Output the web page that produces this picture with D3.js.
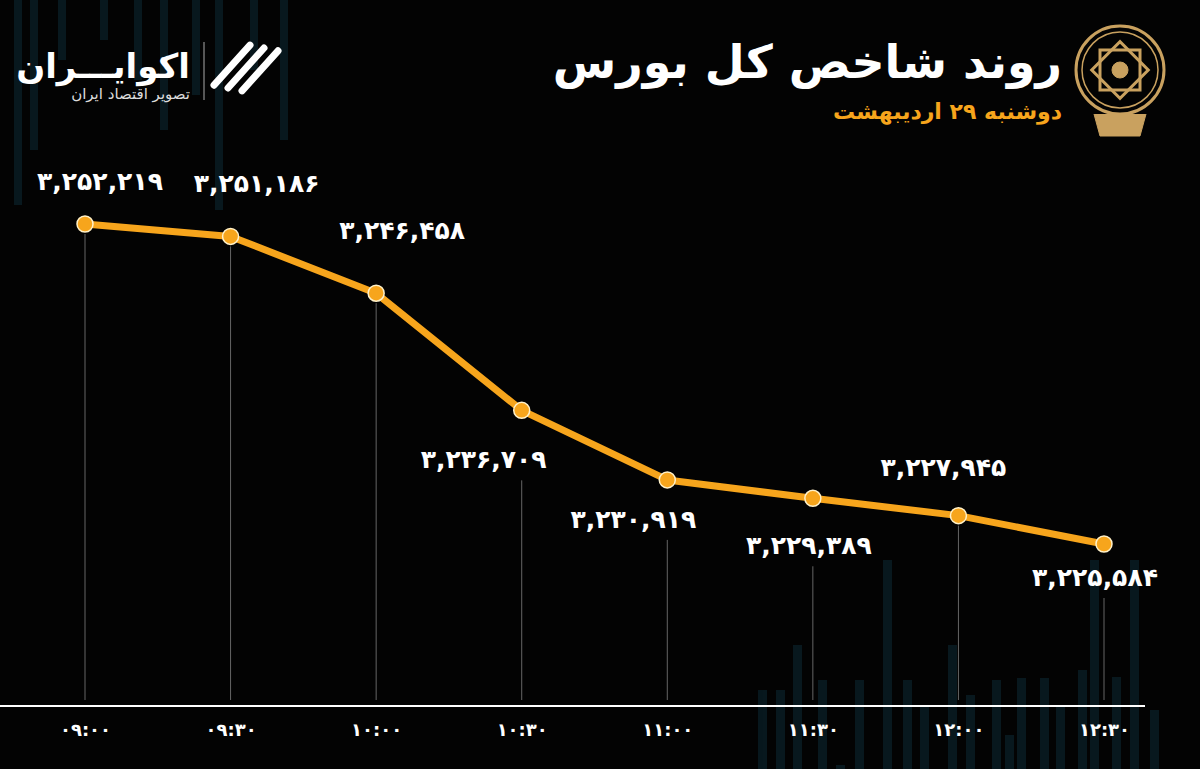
<!DOCTYPE html>
<html><head><meta charset="utf-8">
<script src="https://cdn.jsdelivr.net/npm/d3@7"></script>
<style>body{margin:0;background:#000;}svg{display:block}</style></head>
<body><svg id="c" width="1200" height="769"></svg>
<script>
const times = ["09:00","09:30","10:00","10:30","11:00","11:30","12:00","12:30"];
const values = [3252219,3251186,3246458,3236709,3230919,3229389,3227945,3225584];
const title = "روند شاخص کل بورس";
const subtitle = "دوشنبه ۲۹ اردیبهشت";

const W=1200,H=769;
const svg=d3.select("#c");
svg.append("rect").attr("width",W).attr("height",H).attr("fill","#030303");
const fa = s => String(s).replace(/\d/g,d=>"۰۱۲۳۴۵۶۷۸۹"[d]);
const font="'DejaVu Sans', sans-serif";

// decorative background bars
const deco = svg.append("g").attr("fill","#0a1f27").attr("opacity",0.75);
const bgTop=[[14,0,205],[30,0,150],[58,0,60],[100,0,40],[134,0,80],[160,0,130],[192,0,95],[215,0,210],[250,0,70],[280,0,140]];
bgTop.forEach(b=>deco.append("rect").attr("x",b[0]).attr("y",b[1]).attr("width",8).attr("height",b[2]));
const bgBot=[[758,690],[776,690],[793,645],[818,680],[836,765],[855,680],[883,560],[903,680],[920,705],[948,645],[966,695],[992,680],[1005,735],[1017,678],[1040,678],[1056,705],[1078,670],[1090,560],[1112,677],[1130,560],[1150,710]];
bgBot.forEach(b=>deco.append("rect").attr("x",b[0]).attr("y",b[1]).attr("width",9).attr("height",H-b[1]));

const x=d3.scalePoint().domain(times).range([85,1104]);
const y=d3.scaleLinear().domain([3225584,3252219]).range([544,224]);

// axis
const ax=svg.append("g").attr("transform","translate(0,706)")
 .call(d3.axisBottom(x).tickSize(0).tickFormat(fa));
ax.select(".domain").remove();
svg.append("line").attr("x1",0).attr("x2",1145).attr("y1",706).attr("y2",706).attr("stroke","#fff").attr("stroke-width",2);
ax.selectAll("text").attr("fill","#fff").attr("font-family",font).attr("font-weight","bold").attr("font-size",18).attr("dy","1.5em");

// label placements (pixel offsets from point)
const lab=[[15,-34,0],[26,-44,0],[26,-54,0],[-38,58,1],[-34,48,1],[-4,56,1],[-15,-40,0],[-9,42,1]];
const g=svg.append("g");
values.forEach((v,i)=>{
  const px=x(times[i]),py=y(v),L=lab[i];
  const top = L[2]? py+L[1]+12 : py+10;
  g.append("line").attr("x1",px).attr("x2",px).attr("y1",top).attr("y2",700).attr("stroke","#666").attr("stroke-width",1);
  g.append("text").attr("x",px+L[0]).attr("y",py+L[1]).attr("text-anchor","middle")
   .attr("fill","#fff").attr("font-family",font).attr("font-weight","bold").attr("font-size",25)
   .text(fa(d3.format(",")(v)));
});
svg.append("path").datum(values).attr("fill","none").attr("stroke","#f7a51c").attr("stroke-width",7).attr("stroke-linejoin","round")
 .attr("d",d3.line().x((d,i)=>x(times[i])).y(d=>y(d)));
svg.selectAll("circle.p").data(values).join("circle").attr("cx",(d,i)=>x(times[i])).attr("cy",d=>y(d)).attr("r",8)
 .attr("fill","#f7a51c").attr("stroke","#fff1c9").attr("stroke-width",1.5);

// header
svg.append("text").attr("x",1062).attr("y",78).attr("text-anchor","end").attr("fill","#fff").attr("font-family",font).attr("font-weight","bold").attr("font-size",46).text(title);
svg.append("text").attr("x",1062).attr("y",119).attr("text-anchor","end").attr("fill","#f7a51c").attr("font-family",font).attr("font-weight","bold").attr("font-size",22).text(subtitle);
// emblem
const em=svg.append("g").attr("transform","translate(1120,70)").attr("stroke","#c9a15f").attr("fill","none");
em.append("circle").attr("r",44).attr("stroke-width",3);
em.append("circle").attr("r",38).attr("stroke-width",1.5);
em.append("rect").attr("x",-20).attr("y",-20).attr("width",40).attr("height",40).attr("stroke-width",3);
em.append("rect").attr("x",-20).attr("y",-20).attr("width",40).attr("height",40).attr("stroke-width",3).attr("transform","rotate(45)");
em.append("circle").attr("r",8).attr("fill","#c9a15f");
em.append("path").attr("d","M-26,44 L-20,66 L20,66 L26,44").attr("fill","#c9a15f");
// left logo
svg.append("text").attr("x",190).attr("y",78).attr("text-anchor","end").attr("fill","#fff").attr("font-family",font).attr("font-weight","bold").attr("font-size",34).text("اکوایـــران");
svg.append("text").attr("x",190).attr("y",99).attr("text-anchor","end").attr("fill","#ddd").attr("font-family",font).attr("font-size",15).text("تصویر اقتصاد ایران");
svg.append("line").attr("x1",204).attr("x2",204).attr("y1",42).attr("y2",100).attr("stroke","#aaa");
const lg=svg.append("g").attr("transform","translate(250,70)").attr("stroke","#fff").attr("stroke-width",7).attr("fill","none").attr("stroke-linecap","round");
[-14,0,14].forEach(o=>lg.append("path").attr("d",`M${-22+o},${18+o*0.2} L${14+o},${-22+o*0.2}`));
</script></body></html>
